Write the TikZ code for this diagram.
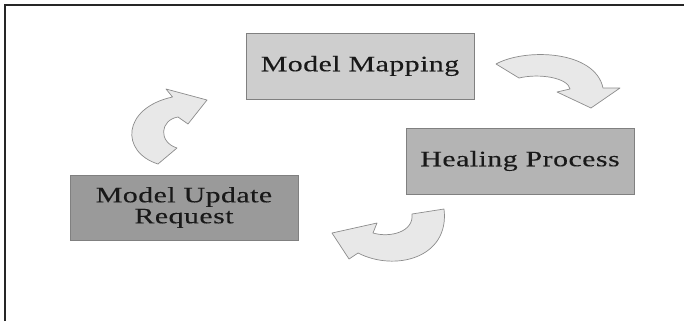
\documentclass[tikz,border=0pt]{standalone}
\usepackage{fontspec}
\setmainfont{Liberation Serif}
\newfontfamily\boxfont[FakeStretch=1.36,LetterSpace=2,FakeBold=0.15]{Liberation Serif}
\definecolor{mapfill}{HTML}{CECECE}
\definecolor{healfill}{HTML}{B4B4B4}
\definecolor{reqfill}{HTML}{9A9A9A}
\definecolor{arrowfill}{HTML}{E8E8E8}
\definecolor{arrowline}{HTML}{8C8C8C}
\begin{document}
\begin{tikzpicture}[x=1pt,y=-1pt,
  stagebox/.style={draw=black!50,line width=0.9pt,minimum width=228pt,minimum height=66pt,
    inner sep=0pt,align=center,text=black!90,font={\boxfont\fontsize{22}{21}\selectfont}},
  cyclearrow/.style={fill=arrowfill,draw=arrowline,line width=0.7pt,line join=round}]
\useasboundingbox (0,0) rectangle (684,321);
% frame edges
\draw[black!85,line width=1.6pt] (5,321) -- (5,5) -- (684,5);
% stages
\node[stagebox,fill=mapfill] (map) at (360,66) {Model Mapping};
\node[stagebox,fill=healfill] (heal) at (520,161) {Healing Process};
\node[stagebox,fill=reqfill,minimum height=65pt] (req) at (184,207.5) {Model Update\\Request};
% curved arrow: mapping -> healing
\draw[cyclearrow] (496,64) .. controls (525,48) and (595,50) .. (603,88)
  -- (620,88) -- (591,108) -- (557,92) -- (570,89)
  .. controls (568,78) and (540,73) .. (519,78) -- cycle;
% curved arrow: healing -> request
\draw[cyclearrow] (444,209) .. controls (450,258) and (395,272) .. (358,253)
  -- (349,259) -- (332,233) -- (377,223) -- (373,233)
  .. controls (390,238) and (414,232) .. (412,214) -- cycle;
% curved arrow: request -> mapping
\draw[cyclearrow] (158,164) .. controls (120,152) and (122,108) .. (172.5,97)
  -- (166,89) -- (207,100) -- (188,124) -- (178,117)
  .. controls (160,120) and (158,142) .. (177,148) -- cycle;
\end{tikzpicture}
\end{document}
